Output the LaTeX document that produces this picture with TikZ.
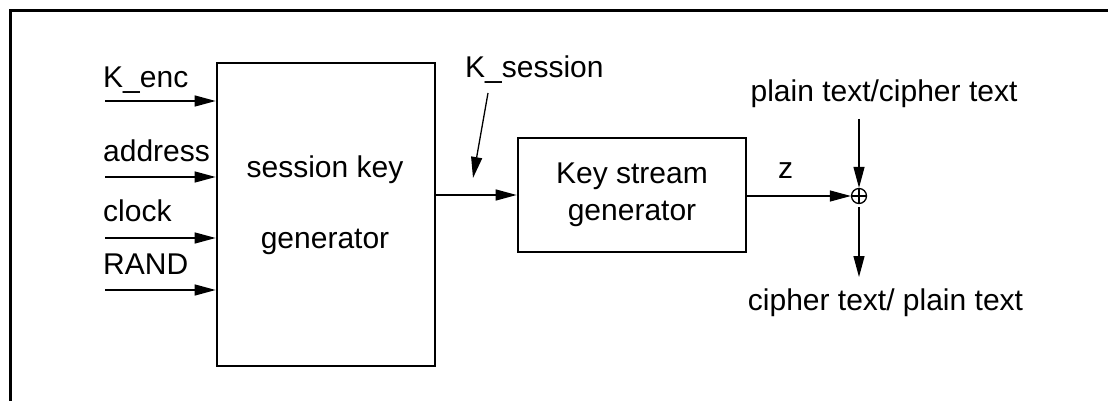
\documentclass[tikz,border=0pt]{standalone}
\usepackage{fontspec}
\setmainfont{Liberation Sans}
\usetikzlibrary{arrows.meta,positioning,calc}
\tikzset{
  blk/.style={draw, line width=2.7pt, inner sep=0pt},
  arr/.style={-{Triangle[length=21pt,width=11pt]}, line width=1.3pt},
  txt/.style={font=\fontsize{30}{37}\selectfont, inner sep=0pt},
  xorc/.style={draw, circle, minimum size=15pt, inner sep=0pt, line width=1.3pt,
    path picture={\draw[line width=1.3pt] (path picture bounding box.north) -- (path picture bounding box.south)
      (path picture bounding box.west) -- (path picture bounding box.east);}},
}

\begin{document}
\begin{tikzpicture}[x=1pt, y=-1pt]
    \useasboundingbox (0,0) rectangle (1108,401);
    % frame
    \draw[line width=3pt] (10,401) -- (10,11) -- (1108,11);
    % blocks
    \node[blk, minimum width=218pt, minimum height=303pt] (skg) at (326,214.5) {};
    \node[txt, anchor=base] (skg1) at (325,177) {session key};
    \node[txt, anchor=base] (skg2) at (325,248) {generator};
    \node[blk, txt, align=center, minimum width=228pt, minimum height=114pt] (ksg) at (632,195) {Key stream\\generator};
    % inputs
    \foreach \n/\y/\ty/\lab in {1/101/88/{K\_enc}, 2/177/161/{address}, 3/238/221/{clock}, 4/290/274/{RAND}}
    {
      \coordinate (in\n) at (105,\y);
      \node[txt, anchor=base west] (lab\n) at (103,\ty) {\lab};
      \draw[arr] (in\n) -- (in\n -| skg.west);
    }
    \draw[arr] (skg.east |- ksg.west) -- (ksg.west);
    \node[txt, anchor=base west] (kses) at (465,78) {K\_session};
    \coordinate (pt1) at (488,93);
    \coordinate (pt2) at (473,178);
    \draw[arr] (pt1) -- (pt2);
    % xor
    \node[xorc] (xor) at (859,196) {};
    \node[txt, anchor=base west] (zl) at (778,178) {z};
    \draw[arr] (ksg.east |- xor) -- (xor.west);
    \node[txt, anchor=base] (pin) at (884,102) {plain text/cipher text};
    \coordinate (pin1) at (859,119);
    \draw[arr] (pin1) -- (xor.north);
    \node[txt, anchor=base] (cout) at (885.5,310) {cipher text/ plain text};
    \coordinate (cout1) at (859,277);
    \draw[arr, shorten <=3pt] (xor.south) -- (cout1);
\end{tikzpicture}
\end{document}
